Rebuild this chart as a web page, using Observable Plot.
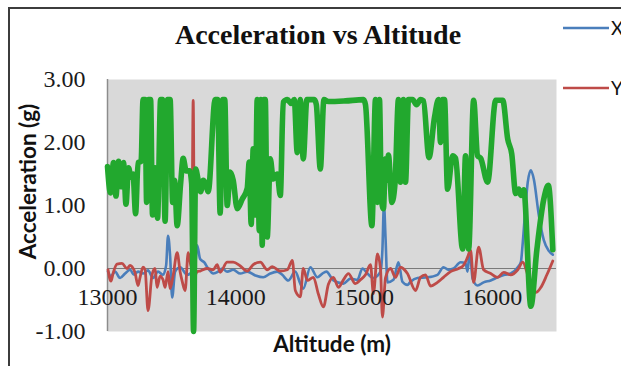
<!DOCTYPE html>
<html><head><meta charset="utf-8">
<script src="https://cdn.jsdelivr.net/npm/d3@7"></script>
<script src="https://cdn.jsdelivr.net/npm/@observablehq/plot@0.6"></script>
<style>
html,body{margin:0;padding:0;background:#fff;overflow:hidden;}
#wrap{position:relative;width:621px;height:366px;overflow:hidden;}
#wrap svg{position:absolute;left:0;top:0;}
#border{position:absolute;left:8px;top:7px;width:700px;height:500px;border:2px solid #3c3c3c;box-sizing:border-box;}
</style>
</head><body>
<div id="wrap"><div id="border"></div></div>
<script>
const titleText = "Acceleration vs Altitude";
const xTitle = "Altitude (m)";
const yTitle = "Acceleration (g)";
const seriesNames = ["X", "Y", "Z"];
const seriesColors = ["#4a7ebb", "#be4b48", "#22a82e"];
const xTickValues = [13000, 14000, 15000, 16000];
const xTickLabels = ["13000", "14000", "15000", "16000"];
const yTickValues = [-1, 0, 1, 2, 3];
const yTickLabels = ["-1.00", "0.00", "1.00", "2.00", "3.00"];

const xAlt = [13004,13027,13059,13098,13137,13176,13207,13238,13277,13316,13355,13394,13433,13457,13472,13488,13504,13527,13566,13621,13660,13683,13699,13722,13753,13785,13824,13863,13894,13933,13980,14035,14089,14152,14214,14269,14323,14362,14409,14464,14503,14526,14581,14636,14675,14706,14761,14839,14894,14948,14987,15026,15073,15128,15143,15155,15167,15182,15229,15268,15299,15338,15362,15416,15494,15572,15619,15659,15698,15752,15791,15807,15823,15846,15885,15932,15987,16041,16096,16143,16198,16222,16237,16261,16276,16300,16323,16362,16401,16440,16471];
const xAcc = [-0.05,-0.12,-0.05,-0.15,-0.08,-0.02,-0.10,-0.05,-0.08,-0.03,-0.15,-0.05,-0.10,0.05,0.52,0.20,-0.46,-0.05,0.02,-0.10,-0.05,0.05,0.37,0.15,0.10,0.00,-0.08,-0.05,0.00,-0.05,-0.02,-0.08,-0.05,-0.11,-0.14,-0.08,-0.05,-0.10,-0.19,-0.05,-0.24,-0.32,0.02,-0.14,-0.08,-0.05,-0.19,-0.24,-0.16,-0.18,0.00,-0.08,-0.15,-0.05,0.30,1.02,0.50,-0.22,-0.18,0.10,-0.21,-0.26,-0.21,-0.15,-0.14,-0.10,0.02,-0.02,0.00,0.10,0.08,-0.05,0.30,-0.16,-0.27,-0.22,-0.19,-0.14,-0.10,-0.08,0.02,0.10,0.41,1.05,1.37,1.56,1.42,0.85,0.45,0.28,0.22];

const yAlt = [13004,13027,13043,13074,13113,13152,13176,13191,13215,13238,13254,13277,13293,13316,13347,13371,13386,13410,13433,13449,13472,13488,13511,13543,13566,13582,13605,13629,13656,13668,13679,13699,13722,13777,13824,13855,13878,13933,13980,14035,14089,14136,14191,14245,14284,14347,14402,14441,14464,14503,14526,14558,14605,14643,14683,14722,14761,14800,14839,14878,14932,14971,15011,15050,15073,15104,15128,15143,15167,15206,15245,15284,15338,15401,15440,15479,15518,15572,15619,15674,15737,15775,15807,15830,15854,15893,15932,15987,16041,16088,16143,16198,16237,16268,16300,16339,16378,16425,16471];
const yAcc = [-0.02,-0.20,-0.08,0.07,0.08,0.00,0.05,0.03,-0.07,-0.27,-0.14,0.02,-0.02,-0.67,-0.10,0.00,-0.30,-0.12,-0.18,-0.30,-0.05,-0.32,-0.12,0.25,-0.05,-0.20,-0.35,0.25,0.00,2.67,-0.12,-0.05,-0.04,0.00,-0.02,0.06,-0.06,0.10,0.10,0.04,-0.04,0.06,0.10,-0.02,0.03,-0.04,-0.02,0.13,-0.35,-0.45,0.00,-0.19,-0.14,-0.40,-0.61,-0.25,-0.14,-0.30,-0.18,-0.08,-0.24,-0.18,-0.10,0.06,-0.40,0.23,0.00,-0.77,-0.15,0.00,-0.14,0.02,-0.08,-0.35,-0.14,-0.10,-0.28,-0.22,-0.14,-0.05,0.00,0.05,0.18,0.29,-0.22,0.34,-0.02,-0.08,-0.14,-0.06,-0.10,-0.02,0.10,-0.05,-0.30,-0.38,-0.30,-0.10,0.12];

const zAlt = [13000,13023,13047,13066,13086,13105,13125,13144,13164,13183,13199,13219,13238,13262,13277,13293,13305,13320,13336,13351,13371,13390,13414,13429,13449,13468,13488,13508,13523,13543,13570,13590,13613,13640,13656,13671,13687,13707,13726,13746,13765,13785,13839,13859,13878,13898,13914,13933,13956,13980,14011,14050,14089,14105,14120,14136,14152,14167,14183,14195,14206,14218,14230,14245,14269,14292,14323,14347,14370,14402,14433,14456,14479,14503,14526,14554,14581,14612,14628,14659,14687,14722,14854,14995,15011,15061,15089,15104,15120,15135,15151,15167,15178,15190,15217,15241,15268,15284,15307,15323,15346,15378,15409,15440,15463,15506,15549,15580,15596,15612,15627,15651,15690,15713,15768,15791,15815,15854,15885,15909,15963,16026,16081,16120,16151,16182,16206,16222,16245,16300,16347,16401,16436,16471];
const zAcc = [1.62,1.20,1.68,1.15,1.70,1.30,1.68,1.02,1.60,1.45,1.50,0.87,1.68,1.70,2.68,2.68,1.05,2.68,2.68,0.85,1.60,0.80,2.68,2.68,0.75,2.68,2.68,1.05,1.40,0.68,1.35,1.75,1.55,1.55,1.35,-1.00,1.58,1.40,1.22,1.40,1.35,1.22,2.68,2.68,0.88,2.68,2.68,1.00,1.53,1.40,0.95,1.10,1.27,1.69,0.70,1.90,0.85,2.68,0.60,2.68,0.37,2.68,2.68,0.50,1.74,1.42,1.50,1.16,2.64,2.68,2.62,2.68,1.84,2.68,1.74,2.68,2.68,2.68,2.60,1.58,2.68,2.65,2.66,2.68,2.60,0.68,2.68,1.05,2.68,1.10,0.95,1.74,1.40,1.80,1.05,1.35,2.68,1.37,2.68,1.37,2.68,2.68,2.60,2.68,2.66,1.76,2.40,2.68,2.00,2.68,2.68,1.26,1.79,1.75,0.31,1.79,0.31,2.67,1.79,1.75,1.37,2.67,2.67,2.05,1.82,1.19,1.26,1.16,1.25,-0.60,0.30,1.10,1.32,0.30];

const toRows = (alts, accs) => alts.map((a, i) => ({alt: a, acc: accs[i]}));
const series = [toRows(xAlt, xAcc), toRows(yAlt, yAcc), toRows(zAlt, zAcc)];
const widths = [2.6, 2.8, 5.6];
const xTickRows = xTickValues.map((v, i) => ({alt: v, acc: 0, label: xTickLabels[i]}));

const chart = Plot.plot({
  width: 621, height: 366,
  marginLeft: 107, marginRight: 65, marginTop: 79, marginBottom: 35,
  style: {fontFamily: "Liberation Serif", fontSize: "24px", color: "#1a1a1a", background: "transparent", overflow: "visible"},
  x: {domain: [13000, 16500], axis: null},
  y: {domain: [-1, 3]},
  marks: [
    Plot.frame({fill: "#d9d9d9", stroke: "none"}),
    Plot.ruleX([13000], {stroke: "#8c8c8c", strokeWidth: 1.5}),
    Plot.ruleY([0], {stroke: "#7a7a7a", strokeWidth: 1}),
    ...series.map((s, i) => Plot.line(s, {x: "alt", y: "acc", stroke: seriesColors[i], strokeWidth: widths[i], curve: "monotone-x", strokeLinejoin: "round"})),
    Plot.axisY({ticks: yTickValues, tickFormat: d => yTickLabels[yTickValues.indexOf(d)], tickSize: 0, tickPadding: 22, fontSize: 24, label: null}),
    Plot.text(xTickRows, {x: "alt", y: "acc", text: "label", dy: 29, fontSize: 24, fill: "#1a1a1a"}),
    Plot.text([yTitle], {frameAnchor: "left", dx: -79, dy: -24, rotate: -90, textAnchor: "middle", fontFamily: "Lato", fontWeight: "bold", fontSize: 22.5, fill: "#111"}),
    Plot.text([xTitle], {frameAnchor: "bottom", dy: 20, textAnchor: "middle", fontFamily: "Lato", fontWeight: "bold", fontSize: 22.5, fill: "#111"})
  ]
});
const wrap = document.getElementById("wrap");
wrap.insertBefore(chart, document.getElementById("border"));

// title and legend overlay
const ov = d3.select(wrap).append("svg").attr("width", 621).attr("height", 366);
ov.append("text").attr("x", 318).attr("y", 44).attr("text-anchor", "middle")
  .attr("font-family", "Liberation Serif").attr("font-weight", "bold").attr("font-size", 28)
  .attr("fill", "#111").text(titleText);
const legendY = [28, 88];
[0, 1].forEach(i => {
  ov.append("line").attr("x1", 563).attr("x2", 609).attr("y1", legendY[i]).attr("y2", legendY[i])
    .attr("stroke", seriesColors[i]).attr("stroke-width", 2.5);
  ov.append("text").attr("x", 611).attr("y", legendY[i]).attr("dy", "0.35em")
    .attr("font-family", "Lato").attr("font-size", 19).attr("fill", "#111").text(seriesNames[i]);
});
</script>
</body></html>
